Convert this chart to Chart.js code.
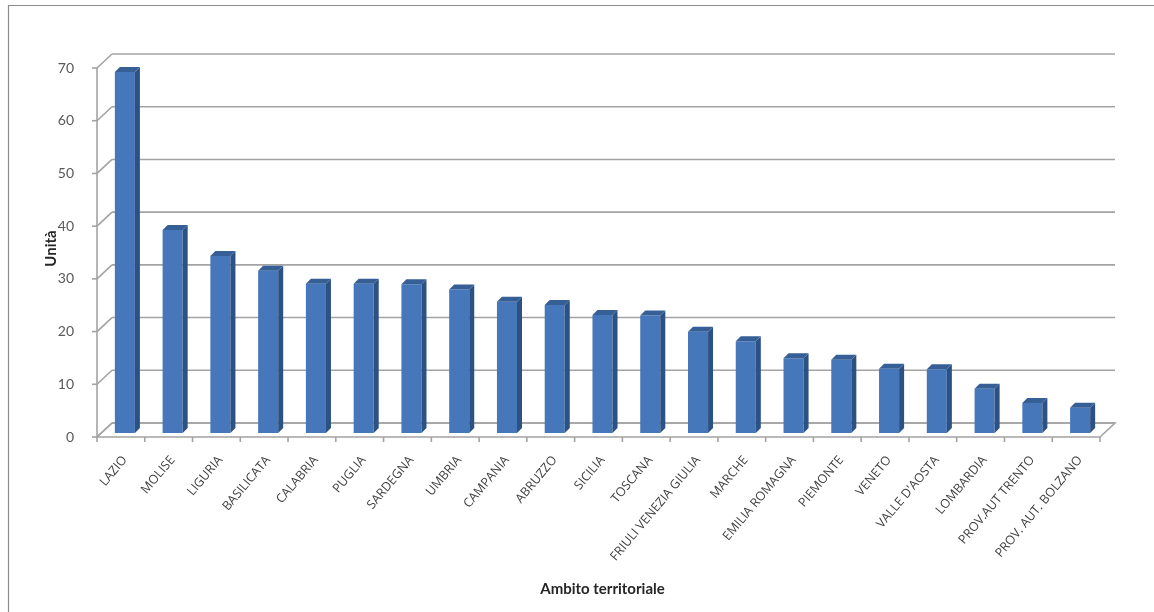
<!DOCTYPE html>
<html>
<head>
<meta charset="utf-8">
<script src="https://cdn.jsdelivr.net/npm/chart.js@4/dist/chart.umd.min.js"></script>
<style>
html,body{margin:0;padding:0;background:#fff;}
#wrap{position:relative;width:1154px;height:612px;}
</style>
</head>
<body>
<div id="wrap"><canvas id="c" width="1154" height="612"></canvas></div>
<script>
const categories = ["LAZIO","MOLISE","LIGURIA","BASILICATA","CALABRIA","PUGLIA","SARDEGNA","UMBRIA","CAMPANIA","ABRUZZO","SICILIA","TOSCANA","FRIULI VENEZIA GIULIA","MARCHE","EMILIA ROMAGNA","PIEMONTE","VENETO","VALLE D'AOSTA","LOMBARDIA","PROV.AUT TRENTO","PROV. AUT. BOLZANO"];
const unita = [68.5,38.5,33.6,30.8,28.3,28.3,28.2,27.2,24.9,24.3,22.4,22.3,19.2,17.4,14.2,13.9,12.2,12.1,8.4,5.7,4.8];
const yTicks = [0,10,20,30,40,50,60,70];
const yTitle = "Unità";
const xTitle = "Ambito territoriale";

const FRONT = {dx:-4, dy:4};
const BACK = {dx:11, dy:-10};
const DEPTH = 5;

const depthPlugin = {
  id:'depth',
  beforeDraw(chart){
    const ctx = chart.ctx;
    ctx.save();
    ctx.strokeStyle = '#8c8c8c';
    ctx.lineWidth = 1.2;
    ctx.beginPath();
    ctx.moveTo(8.5, 612); ctx.lineTo(8.5, 5.5); ctx.lineTo(1154, 5.5);
    ctx.stroke();
    ctx.restore();
  },
  beforeDatasetsDraw(chart){
    const {ctx, chartArea:{left,right}, scales:{x,y}} = chart;
    ctx.save();
    ctx.strokeStyle = '#a3a3a3';
    ctx.lineWidth = 1.6;
    const y0 = y.getPixelForValue(0);
    ctx.beginPath();
    ctx.moveTo(left+FRONT.dx, y0+FRONT.dy);
    ctx.lineTo(right+FRONT.dx, y0+FRONT.dy);
    ctx.lineTo(right+BACK.dx, y0+BACK.dy);
    ctx.lineTo(left+BACK.dx, y0+BACK.dy);
    ctx.closePath();
    ctx.stroke();
    yTicks.forEach(v=>{
      const py = y.getPixelForValue(v);
      ctx.beginPath();
      ctx.moveTo(left+BACK.dx, py+BACK.dy);
      ctx.lineTo(right+BACK.dx, py+BACK.dy);
      ctx.stroke();
      ctx.beginPath();
      ctx.moveTo(left+FRONT.dx, py+FRONT.dy);
      ctx.lineTo(left+BACK.dx, py+BACK.dy);
      ctx.stroke();
      ctx.beginPath();
      ctx.moveTo(left+FRONT.dx-5, py+FRONT.dy);
      ctx.lineTo(left+FRONT.dx, py+FRONT.dy);
      ctx.stroke();
    });
    const yTop = y.getPixelForValue(yTicks[yTicks.length-1]);
    ctx.beginPath();
    ctx.moveTo(left+FRONT.dx, y0+FRONT.dy);
    ctx.lineTo(left+FRONT.dx, yTop+FRONT.dy);
    ctx.stroke();
    const n = categories.length;
    for(let i=0;i<=n;i++){
      const px = left + (right-left)*i/n + FRONT.dx;
      ctx.beginPath();
      ctx.moveTo(px, y0+FRONT.dy);
      ctx.lineTo(px, y0+FRONT.dy+5);
      ctx.stroke();
    }
    ctx.restore();
  },
  afterDatasetsDraw(chart){
    const ctx = chart.ctx;
    const meta = chart.getDatasetMeta(0);
    ctx.save();
    meta.data.forEach(bar=>{
      const p = bar.getProps(['x','y','base','width'], true);
      const l = p.x - p.width/2, r = p.x + p.width/2;
      ctx.fillStyle = '#2c5284';
      ctx.beginPath();
      ctx.moveTo(r, p.y); ctx.lineTo(r+DEPTH, p.y-DEPTH);
      ctx.lineTo(r+DEPTH, p.base-DEPTH); ctx.lineTo(r, p.base);
      ctx.closePath(); ctx.fill();
      ctx.fillStyle = '#365f96';
      ctx.beginPath();
      ctx.moveTo(l, p.y); ctx.lineTo(l+DEPTH, p.y-DEPTH);
      ctx.lineTo(r+DEPTH, p.y-DEPTH); ctx.lineTo(r, p.y);
      ctx.closePath(); ctx.fill();
    });
    ctx.restore();
  }
};

new Chart(document.getElementById('c'), {
  type:'bar',
  data:{
    labels: categories,
    datasets:[{
      label: yTitle,
      data: unita,
      backgroundColor:'#4677bb',
      borderWidth:0,
      barPercentage:0.42,
      categoryPercentage:1
    }]
  },
  options:{
    responsive:false,
    devicePixelRatio:1,
    animation:false,
    layout:{padding:{top:64,right:50,left:0,bottom:0}},
    plugins:{legend:{display:false},tooltip:{enabled:false}},
    scales:{
      x:{
        grid:{display:false},
        border:{display:false},
        afterFit(s){ s.height = 179; },
        ticks:{
          autoSkip:false,
          minRotation:50,
          maxRotation:50,
          padding:12,
          color:'#404040',
          font:{family:'Open Sans', size:12.5}
        },
        title:{
          display:true,
          text:xTitle,
          color:'#262626',
          font:{family:'Lato', size:15, weight:'bold'},
          padding:{top:0,bottom:14}
        }
      },
      y:{
        min:0,
        max:70,
        afterFit(s){ s.width = 101; },
        afterBuildTicks(s){ s.ticks = yTicks.map(v=>({value:v})); },
        grid:{display:false},
        border:{display:false},
        ticks:{
          stepSize:10,
          padding:19,
          labelOffset:4,
          color:'#595959',
          font:{family:'Lato', size:14}
        },
        title:{
          display:true,
          text:yTitle,
          color:'#262626',
          font:{family:'Lato', size:15, weight:'bold'},
          padding:{top:42,bottom:0}
        }
      }
    }
  },
  plugins:[depthPlugin]
});
</script>
</body>
</html>
